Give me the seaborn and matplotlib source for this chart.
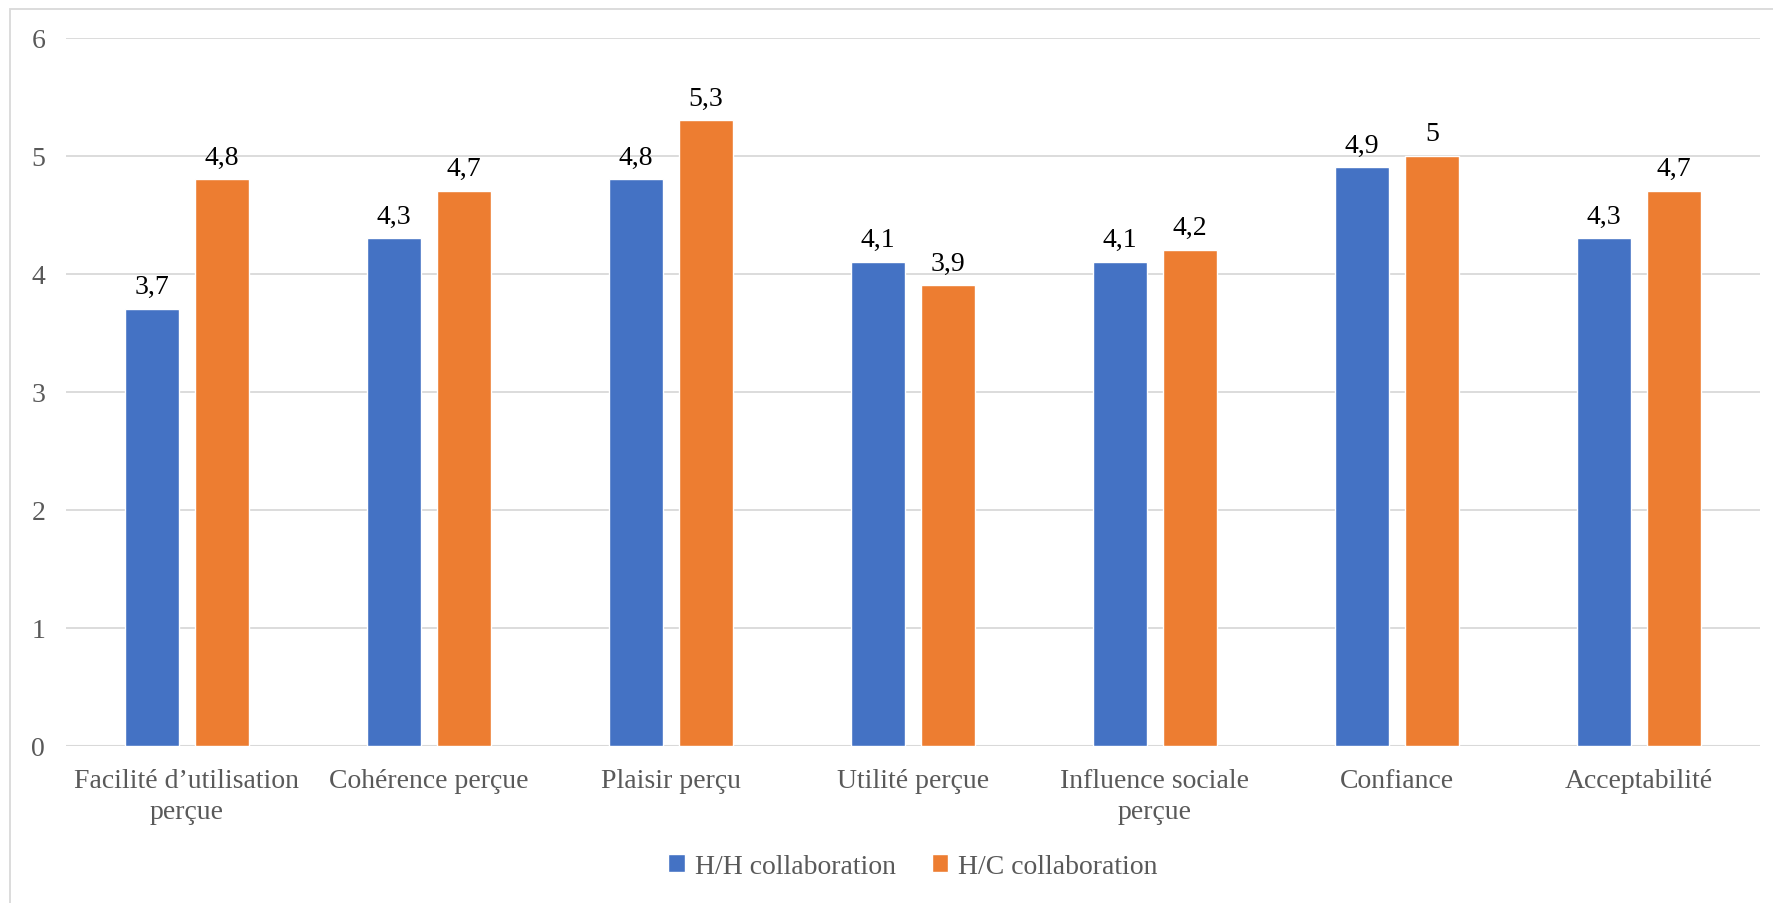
import pandas as pd
import seaborn as sns
import matplotlib.pyplot as plt
from matplotlib.patches import Rectangle

categories = ["Facilité d’utilisation\nperçue", "Cohérence perçue", "Plaisir perçu",
              "Utilité perçue", "Influence sociale\nperçue", "Confiance", "Acceptabilité"]
hh_values = [3.7, 4.3, 4.8, 4.1, 4.1, 4.9, 4.3]
hc_values = [4.8, 4.7, 5.3, 3.9, 4.2, 5.0, 4.7]
series = ["H/H collaboration", "H/C collaboration"]
colors = ["#4472C4", "#ED7D31"]

df = pd.DataFrame({
    "categorie": categories * 2,
    "valeur": hh_values + hc_values,
    "serie": [series[0]] * len(categories) + [series[1]] * len(categories),
})

sns.set_style("white")
plt.rcParams['font.family'] = ['Liberation Serif', 'DejaVu Serif']

fig = plt.figure(figsize=(17.73, 9.04), dpi=100)
ax = fig.add_axes([66 / 1773, 1 - 747 / 904, (1760 - 66) / 1773, (747 - 38.5) / 904])

sns.barplot(data=df, x="categorie", y="valeur", hue="serie", palette=colors,
            width=0.58, gap=0.22, saturation=1, ax=ax, legend=True)

ax.set_ylim(0, 6)
ax.set_xlim(-0.5, len(categories) - 0.5)
ax.set_yticks(range(0, 7))
ax.yaxis.grid(True, color="#D9D9D9", linewidth=1.3)
ax.set_axisbelow(True)
for s in ["top", "right", "left", "bottom"]:
    ax.spines[s].set_visible(False)
ax.axhline(0, color="#D9D9D9", linewidth=1.5, zorder=0.5)
ax.set_xlabel("")
ax.set_ylabel("")
ax.tick_params(axis="both", length=0, labelsize=20, labelcolor="#595959")
ax.tick_params(axis="y", pad=15)
ax.tick_params(axis="x", pad=16)
for t in ax.get_xticklabels():
    t.set_linespacing(1.3)

for cont in ax.containers:
    labels = [f"{v:g}".replace(".", ",") for v in cont.datavalues]
    ax.bar_label(cont, labels=labels, padding=7, fontsize=20, color="#000000")

ax.legend(loc="center", bbox_to_anchor=(0.5, -0.17), ncol=2, frameon=False,
          fontsize=20, labelcolor="#595959", handlelength=0.6, handleheight=0.6,
          handletextpad=0.35, columnspacing=1.3)

fig.patches.append(Rectangle((10 / 1773, -0.1), 1.2, 1 - 10 / 904 + 0.1,
                             transform=fig.transFigure, fill=False,
                             edgecolor="#D9D9D9", linewidth=1.3))

fig.savefig("out.png", dpi=100)
